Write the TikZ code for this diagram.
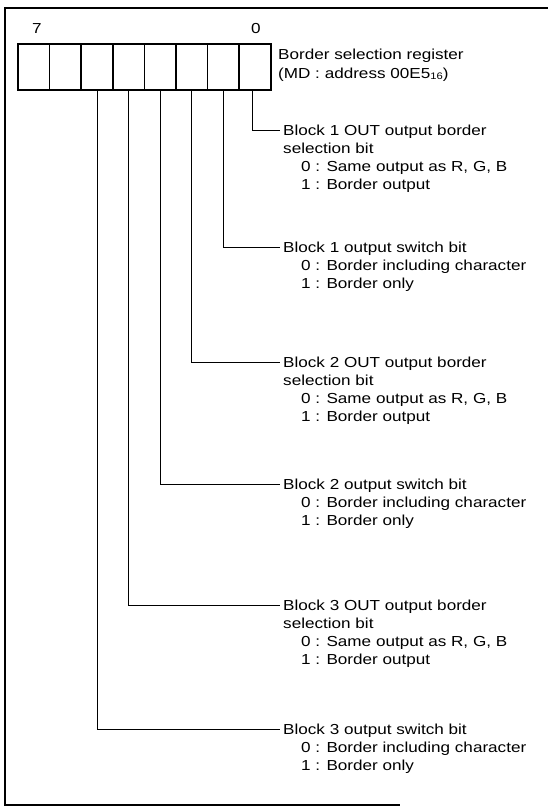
\documentclass[tikz,border=0pt]{standalone}
\usepackage{fontspec}
\setmainfont[FakeStretch=1.18]{Liberation Sans}
\begin{document}
\begin{tikzpicture}[x=1pt,y=-1pt,
  cellbox/.style={draw, line width=1.6pt, minimum width=31.6pt, minimum height=46pt, inner sep=0pt, outer sep=0pt},
  lbl/.style={font=\fontsize{14.5}{18}\selectfont, inner sep=0pt, anchor=base west},
  num/.style={font=\fontsize{14.5}{18}\selectfont, inner sep=0pt},
  conn/.style={line width=1pt},
  frameline/.style={line width=2.4pt}]
\useasboundingbox (0,0) rectangle (548,807);
% frame
\draw[frameline] (548,8) -- (5,8) -- (5,805) -- (400,805);
% register cells (bit 7 left ... bit 0 right)
\foreach \i in {0,...,7}
  \node[cellbox] (c\i) at ({33.8+31.6*(7-\i)},67) {};
\node[num] (n7) at (37,29) {7};
\node[num] (n0) at (256,29) {0};
\node[lbl] (reg) at (278,59) {Border selection register};
\node[lbl] (addr) at ([yshift=-19pt]reg.base west) {(MD : address 00E5\raisebox{-1pt}{\fontsize{9.5}{10}\selectfont 16})};
% connector end points
\coordinate (e0) at (280,130);
\coordinate (e1) at (280,247);
\coordinate (e2) at (280,362);
\coordinate (e3) at (280,484);
\coordinate (e4) at (280,605);
\coordinate (e5) at (280,729);
\draw[conn] ([xshift=-3pt]c0.south) |- (e0);
\draw[conn] (c1.south) |- (e1);
\draw[conn] (c2.south) |- (e2);
\draw[conn] (c3.south) |- (e3);
\draw[conn] (c4.south) |- (e4);
\draw[conn] (c5.south) |- (e5);
% block 1 OUT
\node[lbl] (t0a) at ([xshift=3pt,yshift=-5.2pt]e0) {Block 1 OUT output border};
\node[lbl] (t0b) at ([yshift=-18pt]t0a.base west) {selection bit};
\node[lbl] (t0c) at ([xshift=18pt,yshift=-36pt]t0a.base west) {0 : Same output as R, G, B};
\node[lbl] (t0d) at ([xshift=18pt,yshift=-54pt]t0a.base west) {1 : Border output};
% block 1 switch
\node[lbl] (t1a) at ([xshift=3pt,yshift=-5.2pt]e1) {Block 1 output switch bit};
\node[lbl] (t1b) at ([xshift=18pt,yshift=-18pt]t1a.base west) {0 : Border including character};
\node[lbl] (t1c) at ([xshift=18pt,yshift=-36pt]t1a.base west) {1 : Border only};
% block 2 OUT
\node[lbl] (t2a) at ([xshift=3pt,yshift=-5.2pt]e2) {Block 2 OUT output border};
\node[lbl] (t2b) at ([yshift=-18pt]t2a.base west) {selection bit};
\node[lbl] (t2c) at ([xshift=18pt,yshift=-36pt]t2a.base west) {0 : Same output as R, G, B};
\node[lbl] (t2d) at ([xshift=18pt,yshift=-54pt]t2a.base west) {1 : Border output};
% block 2 switch
\node[lbl] (t3a) at ([xshift=3pt,yshift=-5.2pt]e3) {Block 2 output switch bit};
\node[lbl] (t3b) at ([xshift=18pt,yshift=-18pt]t3a.base west) {0 : Border including character};
\node[lbl] (t3c) at ([xshift=18pt,yshift=-36pt]t3a.base west) {1 : Border only};
% block 3 OUT
\node[lbl] (t4a) at ([xshift=3pt,yshift=-5.2pt]e4) {Block 3 OUT output border};
\node[lbl] (t4b) at ([yshift=-18pt]t4a.base west) {selection bit};
\node[lbl] (t4c) at ([xshift=18pt,yshift=-36pt]t4a.base west) {0 : Same output as R, G, B};
\node[lbl] (t4d) at ([xshift=18pt,yshift=-54pt]t4a.base west) {1 : Border output};
% block 3 switch
\node[lbl] (t5a) at ([xshift=3pt,yshift=-5.2pt]e5) {Block 3 output switch bit};
\node[lbl] (t5b) at ([xshift=18pt,yshift=-18pt]t5a.base west) {0 : Border including character};
\node[lbl] (t5c) at ([xshift=18pt,yshift=-36pt]t5a.base west) {1 : Border only};
\end{tikzpicture}
\end{document}
